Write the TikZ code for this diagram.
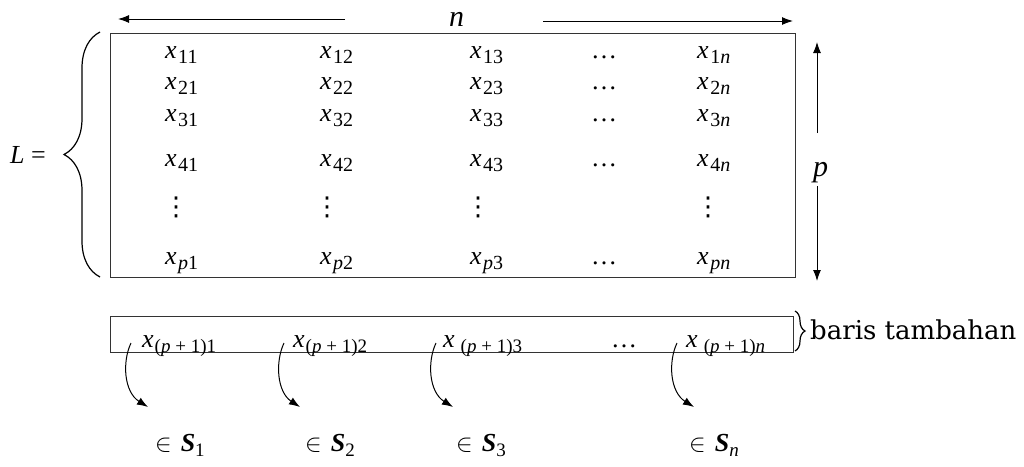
\documentclass[tikz,border=0pt]{standalone}
\usepackage{fontspec}
\setmainfont{Liberation Serif}
\newfontfamily\dvs{DejaVu Serif}
\newfontfamily\dvsans{DejaVu Sans}
\usetikzlibrary{arrows.meta,decorations.pathreplacing}
\newcommand{\xe}[1]{\textit{x}\kern1.5pt\raisebox{-5pt}{\fontsize{20}{20}\selectfont #1}}
\newcommand{\xw}[1]{\textit{x}\kern6pt\raisebox{-5pt}{\fontsize{19}{19}\selectfont #1}}
\newcommand{\xr}[1]{\textit{x}\kern1pt\raisebox{-5pt}{\fontsize{19}{19}\selectfont #1}}
\newcommand{\ip}{\textit{p}}
\newcommand{\itn}{\textit{n}}
\newcommand{\vdd}{{\dvsans\fontsize{26}{30}\selectfont ⋮}}
\newcommand{\elS}[1]{$\in$\hspace{9pt}\textbf{\textit{S}}\raisebox{-5pt}{\fontsize{19}{19}\selectfont #1}}
\begin{document}
\begin{tikzpicture}[x=1pt,y=-1pt,
  lbl/.style={inner sep=0pt, anchor=base west, font=\fontsize{26}{30}\selectfont},
  vd/.style={inner sep=0pt},
  frame/.style={draw=black!80, line width=1pt, inner sep=0pt},
  arr/.style={line width=1pt, -{Latex[length=11pt,width=8pt]}},
  brc/.style={line width=1.2pt, decorate}]
\useasboundingbox (0,0) rectangle (1024,466);
% main matrix frame
\node[frame, anchor=north west, minimum width=685pt, minimum height=244pt] (M) at (110,33) {};
% lower frame
\node[frame, anchor=north west, minimum width=683pt, minimum height=36pt] (B) at (110,316) {};
% rows
\node[lbl] (x11) at (165,58) {\xe{11}};
\node[lbl] (x12) at (320,58) {\xe{12}};
\node[lbl] (x13) at (470,58) {\xe{13}};
\node[lbl] (d1)  at (591,58) {…};
\node[lbl] (x1n) at (697,58) {\xe{1\itn}};
\node[lbl] (x21) at (165,89) {\xe{21}};
\node[lbl] (x22) at (320,89) {\xe{22}};
\node[lbl] (x23) at (470,89) {\xe{23}};
\node[lbl] (d2)  at (591,89) {…};
\node[lbl] (x2n) at (697,89) {\xe{2\itn}};
\node[lbl] (x31) at (165,121) {\xe{31}};
\node[lbl] (x32) at (320,121) {\xe{32}};
\node[lbl] (x33) at (470,121) {\xe{33}};
\node[lbl] (d3)  at (591,121) {…};
\node[lbl] (x3n) at (697,121) {\xe{3\itn}};
\node[lbl] (x41) at (165,166) {\xe{41}};
\node[lbl] (x42) at (320,166) {\xe{42}};
\node[lbl] (x43) at (470,166) {\xe{43}};
\node[lbl] (d4)  at (591,166) {…};
\node[lbl] (x4n) at (697,166) {\xe{4\itn}};
\node[vd] (v1) at (176,207) {\vdd};
\node[vd] (v2) at (327,207) {\vdd};
\node[vd] (v3) at (478,207) {\vdd};
\node[vd] (v5) at (708,207) {\vdd};
\node[lbl] (xp1) at (165,264) {\xe{\ip1}};
\node[lbl] (xp2) at (320,264) {\xe{\ip2}};
\node[lbl] (xp3) at (470,264) {\xe{\ip3}};
\node[lbl] (dp)  at (591,264) {…};
\node[lbl] (xpn) at (697,264) {\xe{\ip\itn}};
% extra row
\node[lbl] (r1) at (142,347) {\xr{(\ip{} + 1)1}};
\node[lbl] (r2) at (293,347) {\xr{(\ip{} + 1)2}};
\node[lbl] (r3) at (443,347) {\xw{(\ip{} + 1)3}};
\node[lbl] (rd) at (611,347) {…};
\node[lbl] (rn) at (686,347) {\xw{(\ip{} + 1)\itn}};
% L =
\node[lbl] (Lq) at (10,163) {\textit{L} =};
\draw[brc, decoration={brace, amplitude=36pt}] (100,277) -- (100,32);
% n and p
\node[lbl, font=\fontsize{30}{34}\selectfont] (n) at (449,26) {\textit{n}};
\coordinate (nl1) at (345,19);
\coordinate (nl2) at (118,19);
\coordinate (nr1) at (543,21);
\coordinate (nr2) at (793,21);
\draw[arr] (nl1) -- (nl2);
\draw[arr] (nr1) -- (nr2);
\node[lbl, font=\fontsize{30}{34}\selectfont] (p) at (813,176) {\textit{p}};
\coordinate (pu1) at (817,133);
\coordinate (pu2) at (817,42);
\coordinate (pd1) at (817,186);
\coordinate (pd2) at (817,281);
\draw[arr] (pu1) -- (pu2);
\draw[arr] (pd1) -- (pd2);
% brace for extra row
\draw[brc, decoration={brace, amplitude=10pt}] (795,311) -- (795,351);
\node[lbl, font=\dvs\fontsize{26}{30}\selectfont] (bt) at (810,339) {baris tambahan};
% membership
\node[lbl] (s1) at (155,451) {\elS{1}};
\node[lbl] (s2) at (305,451) {\elS{2}};
\node[lbl] (s3) at (456,451) {\elS{3}};
\node[lbl] (sn) at (689,451) {\elS{\itn}};
\coordinate (a1) at (131,343);
\coordinate (a2) at (284,343);
\coordinate (a3) at (436,343);
\coordinate (an) at (677,343);
\coordinate (t1) at (148,407);
\coordinate (t2) at (300,407);
\coordinate (t3) at (453,407);
\coordinate (tn) at (694,407);
\draw[arr] (a1) .. controls (122,362) and (124,392) .. (t1);
\draw[arr] (a2) .. controls (275,362) and (277,392) .. (t2);
\draw[arr] (a3) .. controls (427,362) and (429,392) .. (t3);
\draw[arr] (an) .. controls (668,362) and (670,392) .. (tn);
\end{tikzpicture}
\end{document}
